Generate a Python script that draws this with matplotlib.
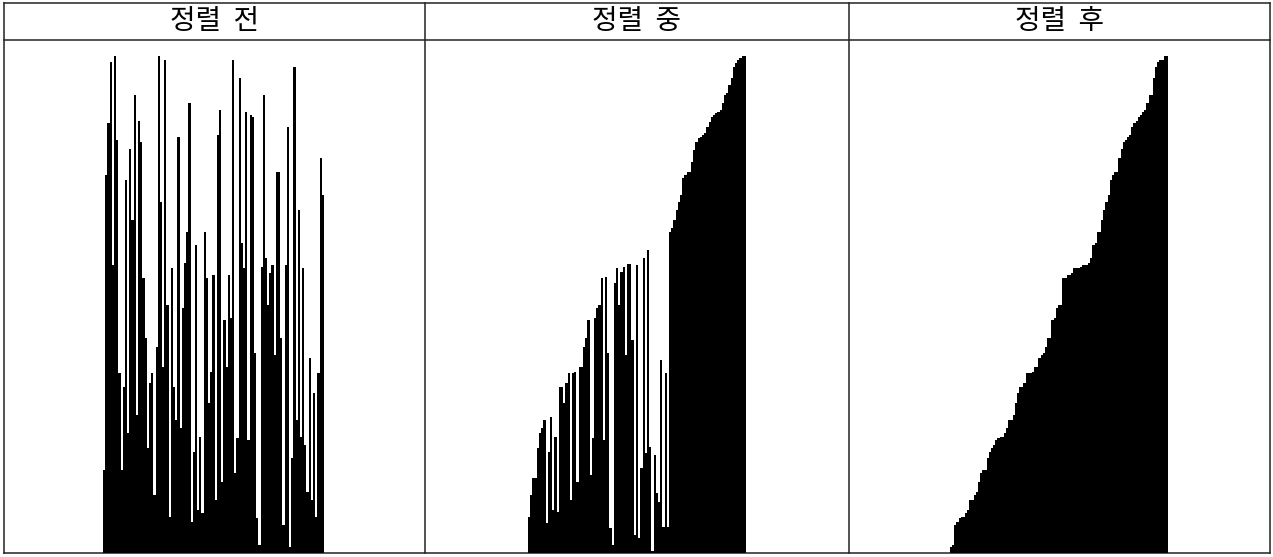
import matplotlib
matplotlib.use("Agg")
import matplotlib.pyplot as plt
from matplotlib.lines import Line2D

plt.rcParams['font.family'] = ['Noto Sans CJK KR', 'DejaVu Sans']

# Column titles
titles = ["정렬  전", "정렬  중", "정렬  후"]

# Bar heights (pixel-height units)
before = [83, 378, 430, 491, 288, 497, 413, 180, 83, 166, 373, 120, 404, 333, 458,
          138, 432, 411, 275, 215, 105, 170, 180, 58, 206, 497, 351, 186, 493, 248,
          36, 285, 166, 133, 416,
          125, 245, 290, 321, 450, 31, 101, 308, 43, 116, 40, 321, 275, 150, 181,
          278, 53, 418, 443, 71, 233, 186, 278, 235, 493, 80, 115, 475, 310, 285,
          441, 113, 438, 436, 200,
          35, 8, 286, 458, 295, 248, 280, 288, 198, 381, 381, 215, 28, 288, 426,
          6, 95, 486, 133, 343, 116, 285, 108, 61, 195, 53, 160, 36, 180, 395, 358]

during = [36, 58, 75, 75, 105, 120, 125, 133, 30, 101, 136, 43, 116, 41, 166,
          166, 150, 170, 180, 53, 180, 181, 71, 186, 186, 206, 215, 233, 78, 115,
          235, 245, 248, 275,
          113, 276, 200, 25, 8, 270, 285, 248, 281, 286, 198, 289, 289, 213, 18, 288,
          15, 85, 295, 100, 303, 106, 2, 98, 60, 51, 193, 26, 180, 26,
          321, 325, 333, 343, 351, 358, 375, 378, 381, 381, 391, 403, 411, 415, 416,
          418, 420, 426, 431, 436, 438, 440, 441, 443, 450, 458, 460, 468, 475, 486,
          490, 493, 495, 497, 497]

after = [6, 8, 28, 31, 35, 36, 36, 40, 43,
         53, 53, 58, 61, 71, 80, 83, 83, 95,
         101, 105, 108, 113, 115, 116, 116, 120, 125, 133, 133, 138,
         150, 160, 166, 166, 170, 180, 180, 180, 181, 186, 186, 195, 198,
         200, 206, 215, 215, 233, 235, 245, 248, 248,
         275, 275, 278, 278, 280, 285, 285, 285, 286, 288, 288, 288, 290, 295,
         308, 310, 321, 321, 333, 343,
         351, 358, 373, 378, 381, 381, 395,
         404, 411, 413, 416, 418, 426, 430, 432, 436, 438, 441, 443,
         450, 458, 458, 475, 486, 491, 493, 493, 497, 497]

series = [before, during, after]

W, H = 1273, 557
fig = plt.figure(figsize=(W / 100, H / 100), dpi=100)

# background axes in pixel coordinates for table grid & titles
bg = fig.add_axes([0, 0, 1, 1])
bg.set_xlim(0, W)
bg.set_ylim(H, 0)
bg.axis('off')

left, right, top, bottom, header = 4, 1270, 3, 553, 40
col_edges = [left, 425, 849, right]
lc = '#222222'
lw = 1.1
bg.add_line(Line2D([left, right], [top, top], color=lc, lw=lw))
bg.add_line(Line2D([left, right], [header, header], color=lc, lw=lw))
bg.add_line(Line2D([left, right], [bottom, bottom], color=lc, lw=lw))
for x in col_edges:
    bg.add_line(Line2D([x, x], [top, bottom], color=lc, lw=lw))

for i, t in enumerate(titles):
    cx = (col_edges[i] + col_edges[i + 1]) / 2
    bg.text(cx, 21, t, ha='center', va='center', fontsize=20, color='black')

# panel pixel extents
panels = [(103, 324), (528, 746), (950, 1168)]
base_y = 553
top_y = 45
for (x0, x1), vals in zip(panels, series):
    ax = fig.add_axes([x0 / W, (H - base_y) / H, (x1 - x0) / W, (base_y - top_y) / H])
    n = len(vals)
    ax.bar(range(n), vals, width=1.0, color='black', edgecolor='none', linewidth=0)
    ax.set_xlim(-0.5, n - 0.5)
    ax.set_ylim(0, base_y - top_y)
    ax.axis('off')

fig.savefig("out.png", dpi=100)
